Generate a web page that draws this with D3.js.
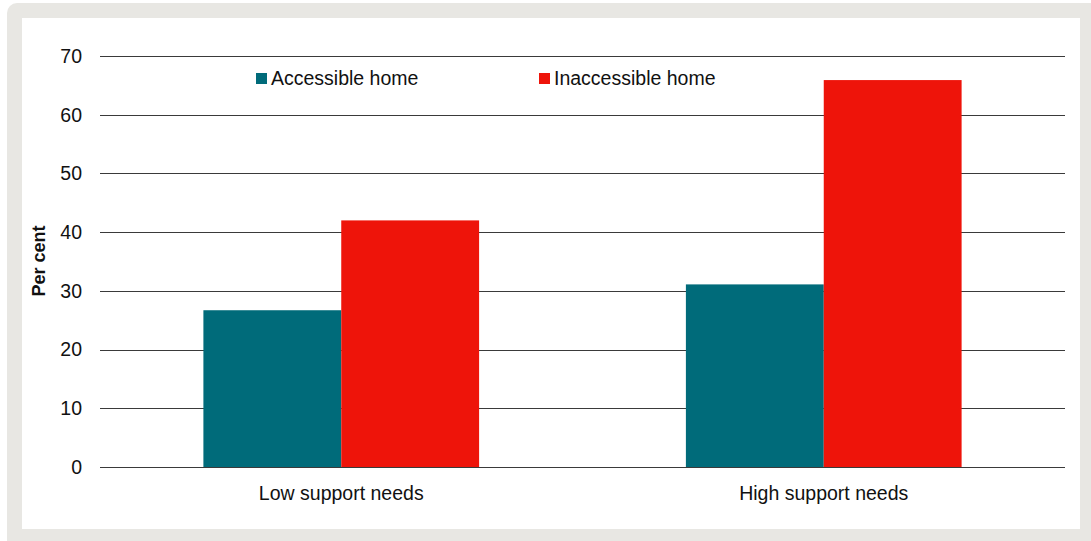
<!DOCTYPE html>
<html><head><meta charset="utf-8">
<script src="https://cdn.jsdelivr.net/npm/d3@7"></script>
<style>body{margin:0;background:#fff;}svg{display:block;font-family:"Liberation Sans",Arial,sans-serif;}</style>
</head><body>
<svg id="chart" width="1091" height="541"></svg>
<script>
const categories = ["Low support needs", "High support needs"];
const seriesNames = ["Accessible home", "Inaccessible home"];
const accessible = [26.7, 31.1];
const inaccessible = [42.0, 65.9];
const yTicks = [0, 10, 20, 30, 40, 50, 60, 70];
const colors = ["#006b7a", "#ee140a"];

const svg = d3.select("#chart");
svg.append("rect").attr("x", 7).attr("y", 3).attr("width", 1100).attr("height", 560).attr("rx", 10).attr("fill", "#e8e7e3");
svg.append("rect").attr("x", 22).attr("y", 18).attr("width", 1058).attr("height", 511).attr("fill", "#fff");

const m = {left: 100, right: 1065, top: 56, bottom: 467};
const x = d3.scaleBand().domain(categories).range([m.left, m.right]).paddingInner(0).paddingOuter(0);
const x1 = d3.scaleBand().domain(seriesNames).range([0, x.bandwidth()]).paddingInner(0).paddingOuter(0.75);
const y = d3.scaleLinear().domain([0, 70]).range([m.bottom, m.top]);

svg.append("g").selectAll("line").data(yTicks).join("line")
  .attr("x1", m.left).attr("x2", m.right)
  .attr("y1", d => Math.round(y(d)) + 0.5).attr("y2", d => Math.round(y(d)) + 0.5)
  .attr("stroke", "#3a3a3a").attr("stroke-width", 1);

svg.append("g").selectAll("text").data(yTicks).join("text")
  .attr("x", 82).attr("y", d => y(d)).attr("dy", "0.35em").attr("text-anchor", "end")
  .attr("font-size", 19.5).attr("fill", "#111").text(d => d);

const data = categories.map((c, i) => ({cat: c, vals: [accessible[i], inaccessible[i]]}));
const g = svg.append("g");
data.forEach(d => {
  g.append("g").attr("transform", `translate(${x(d.cat)},0)`)
    .selectAll("rect").data(seriesNames.map((s, j) => ({s, v: d.vals[j], j}))).join("rect")
    .attr("x", e => x1(e.s)).attr("width", x1.bandwidth())
    .attr("y", e => y(e.v)).attr("height", e => y(0) - y(e.v))
    .attr("fill", e => colors[e.j]);
});

svg.append("line").attr("x1", m.left).attr("x2", m.right)
  .attr("y1", Math.round(y(0)) + 0.5).attr("y2", Math.round(y(0)) + 0.5)
  .attr("stroke", "#3a3a3a");

svg.append("g").selectAll("text").data(categories).join("text")
  .attr("x", d => x(d) + x.bandwidth() / 2).attr("y", 500).attr("text-anchor", "middle")
  .attr("font-size", 19.5).attr("fill", "#111").text(d => d);

svg.append("text").attr("transform", "translate(45,261) rotate(-90)")
  .attr("text-anchor", "middle").attr("font-size", 18).attr("font-weight", "bold").attr("fill", "#111").text("Per cent");

const legendX = [256, 539];
const lg = svg.append("g");
seriesNames.forEach((s, i) => {
  lg.append("rect").attr("x", legendX[i]).attr("y", 73).attr("width", 11).attr("height", 11).attr("fill", colors[i]);
  lg.append("text").attr("x", legendX[i] + 15).attr("y", 85).attr("font-size", 19.5).attr("fill", "#111").text(s);
});
</script>
</body></html>
